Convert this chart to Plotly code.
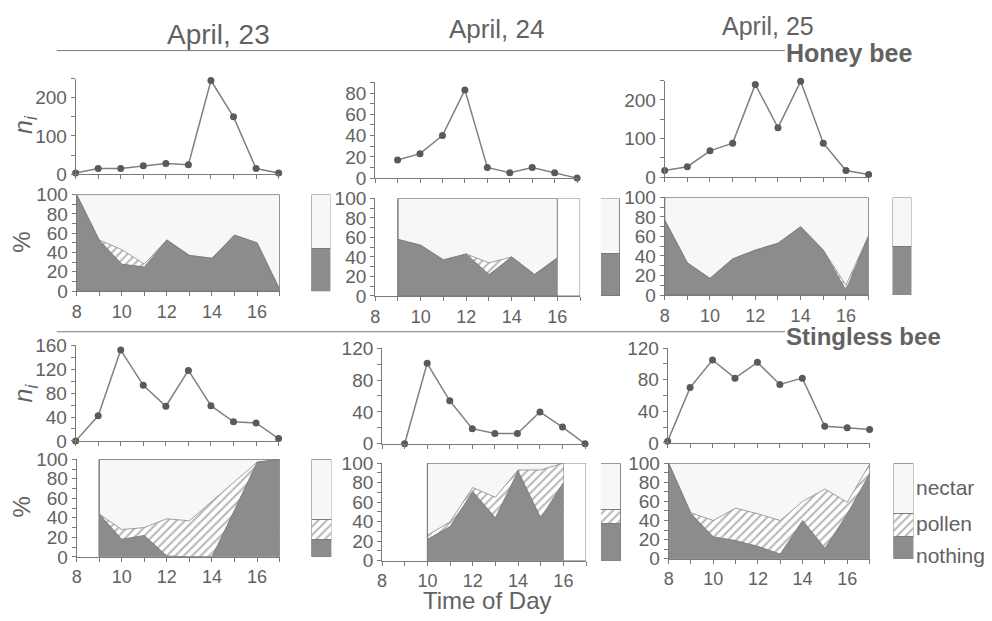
import plotly.graph_objects as go

# ---------------- data ----------------
hours = [8, 9, 10, 11, 12, 13, 14, 15, 16, 17]
days = ["April, 23", "April, 24", "April, 25"]
groups = ["Honey bee", "Stingless bee"]
legend_labels = ["nectar", "pollen", "nothing"]

# number of visitors n_i
hb_n_23 = [3, 15, 15, 22, 28, 25, 245, 150, 15, 3]
hb_n_24 = [None, 17, 23, 40, 83, 10, 5, 10, 5, 0]
hb_n_25 = [17, 27, 68, 88, 240, 128, 248, 88, 17, 7]
sb_n_23 = [0, 42, 152, 93, 58, 118, 59, 32, 30, 4]
sb_n_24 = [None, 0, 101, 54, 19, 13, 13, 40, 21, 0]
sb_n_25 = [2, 70, 105, 82, 102, 74, 82, 21, 19, 17]

# % of bees carrying nothing / pollen (rest = nectar)
hb_nothing_23 = [100, 53, 28, 25, 53, 37, 34, 58, 50, 2]
hb_pollen_23 = [0, 0, 15, 3, 0, 0, 0, 0, 0, 0]
hb_nothing_24 = [None, 58, 52, 37, 43, 22, 40, 22, 39, None]
hb_pollen_24 = [None, 0, 0, 0, 0, 12, 0, 0, 0, None]
hb_nothing_25 = [77, 33, 17, 37, 46, 53, 70, 46, 5, 61]
hb_pollen_25 = [0, 0, 0, 0, 0, 0, 0, 0, 5, 0]
sb_nothing_23 = [None, 44, 18, 22, 1, 0, 0, 48, 97, 100]
sb_pollen_23 = [None, 0, 10, 8, 38, 37, 57, 29, 0, 0]
sb_nothing_24 = [None, None, 22, 35, 71, 44, 92, 44, 80, None]
sb_pollen_24 = [None, None, 4, 5, 4, 21, 1, 49, 20, None]
sb_nothing_25 = [100, 47, 23, 19, 13, 5, 40, 11, 47, 89]
sb_pollen_25 = [0, 1, 17, 34, 34, 35, 20, 62, 12, 10]

# daily totals (%)
hb_total_nothing = [44, 44, 50]
hb_total_pollen = [0, 0, 0]
sb_total_nothing = [18, 38, 23]
sb_total_pollen = [20, 15, 24]

# ---------------- style ----------------
W, H = 992, 621
FONT = "Liberation Sans, Arial, sans-serif"
TXT = "#626262"
AX = "#7a7a7a"
DARK = "#8c8c8c"
NECTAR = "#f7f7f7"
LINE = "#808080"
MARK = "#5a5a5a"

fig = go.Figure()
count = [0]


def new_axes(xpx, ypx, xrange, yrange, xopts, yopts):
    count[0] += 1
    n = count[0]
    sfx = "" if n == 1 else str(n)
    fig.update_layout(**{
        "xaxis" + sfx: dict(domain=[xpx[0] / W, xpx[1] / W], range=xrange,
                            anchor="y" + sfx, fixedrange=True, **xopts),
        "yaxis" + sfx: dict(domain=[1 - ypx[1] / H, 1 - ypx[0] / H], range=yrange,
                            anchor="x" + sfx, fixedrange=True, **yopts),
    })
    return "x" + sfx, "y" + sfx


base_ax = dict(showgrid=False, zeroline=False, showline=True, linecolor=AX,
               linewidth=1, ticks="outside", ticklen=4, tickcolor=AX, tickwidth=1,
               tickfont=dict(size=19, color=TXT, family=FONT))
hidden = dict(visible=False, showgrid=False, zeroline=False)


def minor(step):
    return dict(ticks="outside", ticklen=4, tickcolor=AX, tickwidth=1, dtick=step,
                tick0=0, showgrid=False)


def valid(xs, ys):
    return [x for x, y in zip(xs, ys) if y is not None], [y for y in ys if y is not None]


def line_panel(vals, ymax, step, xpx, ypx):
    xa, ya = new_axes(xpx, ypx, [8, 17], [0, ymax],
                      dict(base_ax, tickmode="linear", tick0=8, dtick=1, showticklabels=False),
                      dict(base_ax, tickmode="linear", tick0=0, dtick=2 * step,
                           minor=minor(step)))
    x, y = valid(hours, vals)
    fig.add_trace(go.Scatter(x=x, y=y, xaxis=xa, yaxis=ya, mode="lines+markers",
                             line=dict(color=LINE, width=1.5),
                             marker=dict(color=MARK, size=7), cliponaxis=False,
                             showlegend=False, hoverinfo="skip"))


def area_panel(nothing, pollen, xpx, ypx):
    xa, ya = new_axes(xpx, ypx, [8, 17], [0, 100],
                      dict(base_ax, tickmode="linear", tick0=8, dtick=2,
                           tickfont=dict(size=18, color=TXT, family=FONT),
                           minor=dict(minor(1), tick0=8)),
                      dict(base_ax, tickmode="linear", tick0=0, dtick=20, minor=minor(10)))
    x, nth = valid(hours, nothing)
    _, pol = valid(hours, pollen)
    top = [a + b for a, b in zip(nth, pol)]
    first, last = x[0], x[-1]
    # frame
    fig.add_shape(type="rect", xref=xa, yref=ya, x0=first, x1=17, y0=0, y1=100,
                  line=dict(color=AX, width=1), layer="above")
    # nectar region
    fig.add_trace(go.Scatter(x=[first] + x + [last], y=[0] + [100] * len(x) + [0],
                             xaxis=xa, yaxis=ya, mode="lines", fill="toself",
                             fillcolor=NECTAR, line=dict(color=AX, width=1),
                             showlegend=False, hoverinfo="skip"))
    # pollen region
    fig.add_trace(go.Scatter(x=x, y=top, xaxis=xa, yaxis=ya, mode="lines",
                             fill="tozeroy",
                             fillpattern=dict(shape="/", fgcolor="#707070", bgcolor="white",
                                              size=6, solidity=0.35),
                             line=dict(color="#8a8a8a", width=0.8),
                             showlegend=False, hoverinfo="skip"))
    # nothing region
    fig.add_trace(go.Scatter(x=x, y=nth, xaxis=xa, yaxis=ya, mode="lines",
                             fill="tozeroy", fillcolor=DARK,
                             line=dict(color="#777777", width=0.8),
                             showlegend=False, hoverinfo="skip"))


def mini_bar(nothing, pollen, xpx, ypx):
    xa, ya = new_axes(xpx, ypx, [-0.5, 0.5], [0, 100], hidden, hidden)
    nectar = 100 - nothing - pollen
    fig.add_trace(go.Bar(x=[0], y=[nothing], width=1, xaxis=xa, yaxis=ya,
                         marker=dict(color=DARK, line=dict(color=AX, width=1)),
                         showlegend=False, hoverinfo="skip"))
    if pollen > 0:
        fig.add_trace(go.Bar(x=[0], y=[pollen], width=1, xaxis=xa, yaxis=ya,
                             marker=dict(color="white", line=dict(color=AX, width=1),
                                         pattern=dict(shape="/", fgcolor="#707070",
                                                      bgcolor="white", size=6, solidity=0.35)),
                             showlegend=False, hoverinfo="skip"))
    fig.add_trace(go.Bar(x=[0], y=[nectar], width=1, xaxis=xa, yaxis=ya,
                         marker=dict(color=NECTAR, line=dict(color=AX, width=1)),
                         showlegend=False, hoverinfo="skip"))


# Honey bee
line_panel(hb_n_23, 250, 50, (71, 275), (71, 170))
line_panel(hb_n_24, 90, 10, (372, 575), (75, 174))
line_panel(hb_n_25, 250, 50, (663, 868), (73, 173))
area_panel(hb_nothing_23, hb_pollen_23, (72, 276), (191, 291))
area_panel(hb_nothing_24, hb_pollen_24, (372, 578), (195, 296))
area_panel(hb_nothing_25, hb_pollen_25, (663, 868), (194, 295))
mini_bar(hb_total_nothing[0], hb_total_pollen[0], (308, 327), (191, 291))
mini_bar(hb_total_nothing[1], hb_total_pollen[1], (599, 618), (195, 296))
mini_bar(hb_total_nothing[2], hb_total_pollen[2], (892, 911), (194, 295))

# Stingless bee
line_panel(sb_n_23, 160, 20, (71, 275), (347, 446))
line_panel(sb_n_24, 120, 20, (379, 583), (350, 449))
line_panel(sb_n_25, 120, 20, (666, 869), (350, 448))
area_panel(sb_nothing_23, sb_pollen_23, (72, 276), (465, 566))
area_panel(sb_nothing_24, sb_pollen_24, (379, 584), (469, 570))
area_panel(sb_nothing_25, sb_pollen_25, (667, 869), (469, 568))
mini_bar(sb_total_nothing[0], sb_total_pollen[0], (308, 328), (465, 566))
mini_bar(sb_total_nothing[1], sb_total_pollen[1], (599, 619), (469, 570))
mini_bar(sb_total_nothing[2], sb_total_pollen[2], (893, 913), (469, 568))


def ann(text, x, y, size, bold=False, angle=0, xanchor="center"):
    fig.add_annotation(text=f"<b>{text}</b>" if bold else text, x=x / W, y=1 - y / H,
                       xref="paper", yref="paper", showarrow=False, textangle=angle,
                       xanchor=xanchor, yanchor="middle", borderpad=0,
                       font=dict(size=size, color=TXT, family=FONT))


ann(days[0], 215, 25, 28)
ann(days[1], 494, 20, 26)
ann(days[2], 767, 17, 25)
ann(groups[0], 784, 44, 25, bold=True, xanchor="left")
ann(groups[1], 784, 338, 24, bold=True, xanchor="left")
for yy in (42, 333):
    fig.add_shape(type="line", xref="paper", yref="paper", x0=52 / W, x1=784 / W,
                  y0=1 - yy / H, y1=1 - yy / H, line=dict(color=AX, width=1))
ann("<i>n<sub>i</sub></i>", 20, 118, 25, angle=-90)
ann("<i>n<sub>i</sub></i>", 20, 396, 25, angle=-90)
ann("%", 17, 240, 24, angle=-90)
ann("%", 17, 514, 24, angle=-90)
ann("Time of Day", 484, 611, 24)
ann(legend_labels[0], 915, 494, 21, xanchor="left")
ann(legend_labels[1], 915, 531, 21, xanchor="left")
ann(legend_labels[2], 915, 565, 21, xanchor="left")

fig.update_layout(width=W, height=H, margin=dict(l=0, r=0, t=0, b=0),
                  paper_bgcolor="white", plot_bgcolor="white", barmode="stack",
                  showlegend=False, font=dict(family=FONT, color=TXT))

fig.write_html("out.html")
